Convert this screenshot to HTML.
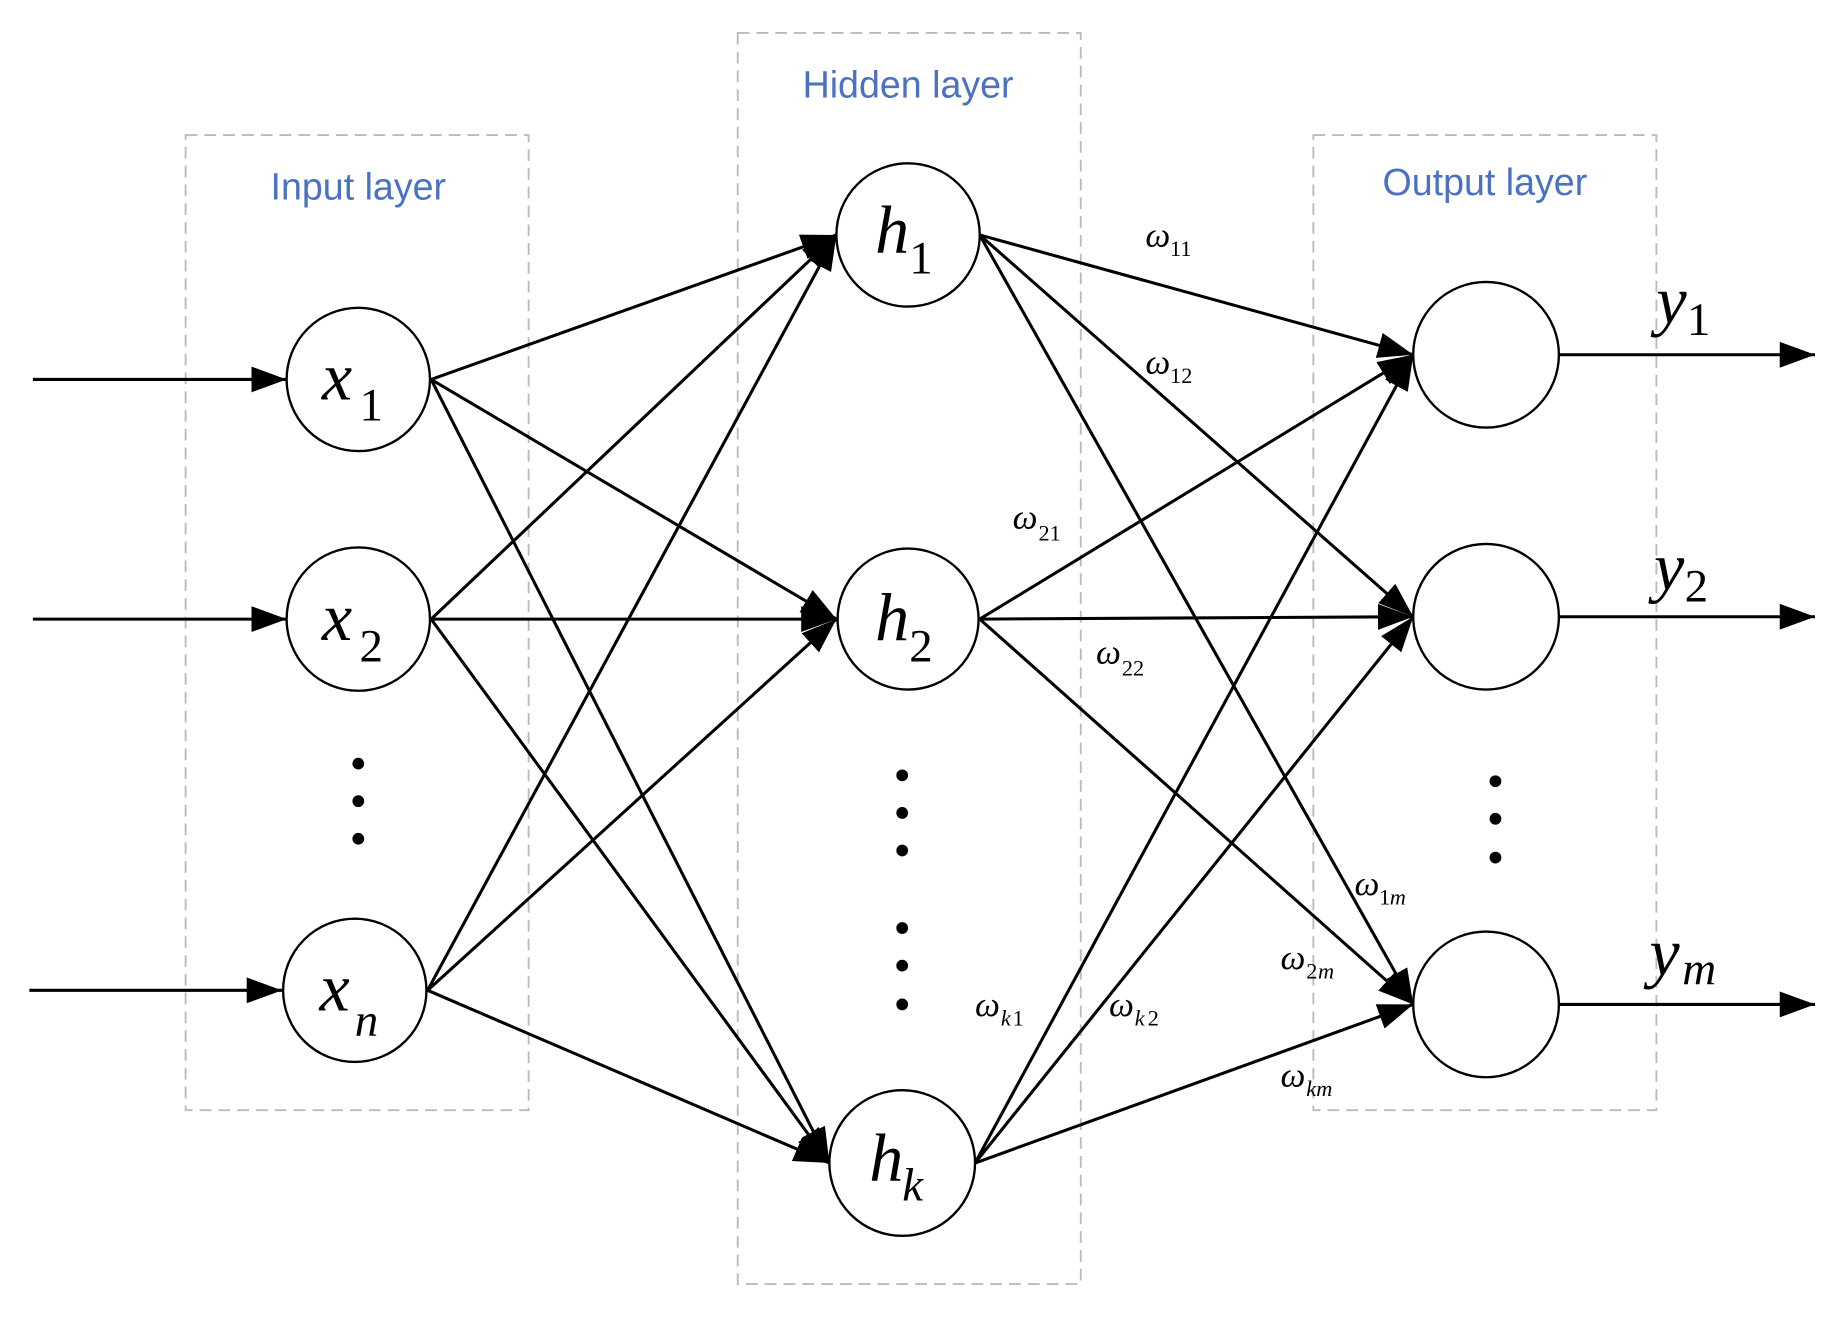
<!DOCTYPE html>
<html><head><meta charset="utf-8"><style>
html,body{margin:0;padding:0;background:#fff;width:1842px;height:1331px;overflow:hidden}
svg{display:block}
.lbl{font-family:"Liberation Sans",sans-serif;fill:#4a72c0;font-size:32px;text-anchor:middle}
.n{font-family:"Liberation Serif",serif;font-style:italic;font-size:58px;fill:#000}
.ns{font-family:"Liberation Serif",serif;font-size:40px;fill:#000}
.w{font-family:"Liberation Serif",serif;font-style:italic;font-size:30px;fill:#000}
.ws{font-family:"Liberation Serif",serif;font-size:19px;fill:#000}
</style></head><body>
<svg width="1842" height="1331" viewBox="0 0 1568 1133" preserveAspectRatio="none">
<defs>
<marker id="a" markerUnits="userSpaceOnUse" markerWidth="32" markerHeight="24" refX="30" refY="11" orient="auto">
<path d="M0,0 L30,11 L0,22 z" fill="#000"/></marker>
</defs>
<g fill="none" stroke="#bbb" stroke-width="1.6" stroke-dasharray="10,6">
<rect x="158" y="115" width="292" height="830"/>
<rect x="628" y="28" width="292" height="1065"/>
<rect x="1118" y="115" width="292" height="830"/>
</g>
<text class="lbl" x="305" y="170">Input layer</text>
<text class="lbl" x="773" y="83">Hidden layer</text>
<text class="lbl" x="1264" y="166">Output layer</text>
<g stroke="#000" stroke-width="2.6" fill="none" marker-end="url(#a)">
<line x1="28" y1="323" x2="244" y2="323"/>
<line x1="28" y1="527" x2="244" y2="527"/>
<line x1="25" y1="843" x2="240" y2="843"/>
<line x1="367" y1="323" x2="712" y2="200"/>
<line x1="367" y1="323" x2="712" y2="527"/>
<line x1="367" y1="323" x2="706" y2="990"/>
<line x1="367" y1="527" x2="712" y2="200"/>
<line x1="367" y1="527" x2="712" y2="527"/>
<line x1="367" y1="527" x2="706" y2="990"/>
<line x1="364" y1="843" x2="712" y2="200"/>
<line x1="364" y1="843" x2="712" y2="527"/>
<line x1="364" y1="843" x2="706" y2="990"/>
<line x1="834" y1="200" x2="1203" y2="302"/>
<line x1="834" y1="200" x2="1203" y2="525"/>
<line x1="834" y1="200" x2="1203" y2="855"/>
<line x1="834" y1="527" x2="1203" y2="302"/>
<line x1="834" y1="527" x2="1203" y2="525"/>
<line x1="834" y1="527" x2="1203" y2="855"/>
<line x1="830" y1="990" x2="1203" y2="302"/>
<line x1="830" y1="990" x2="1203" y2="525"/>
<line x1="830" y1="990" x2="1203" y2="855"/>
<line x1="1327" y1="302" x2="1545" y2="302"/>
<line x1="1327" y1="525" x2="1545" y2="525"/>
<line x1="1327" y1="855" x2="1545" y2="855"/>
</g>
<g fill="#fff" stroke="#000" stroke-width="2">
<circle cx="305" cy="323" r="61"/>
<circle cx="305" cy="527" r="61"/>
<circle cx="302" cy="843" r="61"/>
<circle cx="773" cy="200" r="61"/>
<circle cx="773" cy="527" r="60"/>
<circle cx="768" cy="990" r="62"/>
<circle cx="1265" cy="302" r="62"/>
<circle cx="1265" cy="525" r="62"/>
<circle cx="1265" cy="855" r="62"/>
</g>
<g fill="#000">
<circle cx="305" cy="650" r="5"/><circle cx="305" cy="682" r="5"/><circle cx="305" cy="714" r="5"/>
<circle cx="768" cy="660" r="5"/><circle cx="768" cy="692" r="5"/><circle cx="768" cy="724" r="5"/>
<circle cx="768" cy="790" r="5"/><circle cx="768" cy="822" r="5"/><circle cx="768" cy="855" r="5"/>
<circle cx="1273" cy="665" r="5"/><circle cx="1273" cy="697" r="5"/><circle cx="1273" cy="730" r="5"/>
</g>
<text class="n" x="274" y="340">x</text><text class="ns" x="306" y="358">1</text>
<text class="n" x="274" y="545">x</text><text class="ns" x="306" y="563">2</text>
<text class="n" x="272" y="860">x</text><text class="n" style="font-size:40px" x="302" y="882">n</text>
<text class="n" x="745" y="215">h</text><text class="ns" x="774" y="233">1</text>
<text class="n" x="745" y="545">h</text><text class="ns" x="774" y="563">2</text>
<text class="n" x="740" y="1005">h</text><text class="n" style="font-size:40px" x="768" y="1022">k</text>
<text class="n" x="1410" y="275">y</text><text class="ns" x="1436" y="285">1</text>
<text class="n" x="1408" y="502">y</text><text class="ns" x="1434" y="512">2</text>
<text class="n" x="1404" y="830">y</text><text class="n" style="font-size:40px" x="1432" y="838">m</text>
<text class="w" x="975" y="210">ω</text><text class="ws" x="996" y="218">11</text>
<text class="w" x="975" y="318">ω</text><text class="ws" x="996" y="326">12</text>
<text class="w" x="862" y="450">ω</text><text class="ws" x="884" y="460">21</text>
<text class="w" x="933" y="565">ω</text><text class="ws" x="955" y="575">22</text>
<text class="w" x="1153" y="762">ω</text><text class="ws" x="1174" y="770">1</text><text class="ws" style="font-style:italic" x="1183" y="770">m</text>
<text class="w" x="1090" y="825">ω</text><text class="ws" x="1112" y="833">2</text><text class="ws" style="font-style:italic" x="1122" y="833">m</text>
<text class="w" x="830" y="865">ω</text><text class="ws" style="font-style:italic" x="852" y="873">k</text><text class="ws" x="862" y="873">1</text>
<text class="w" x="944" y="865">ω</text><text class="ws" style="font-style:italic" x="966" y="873">k</text><text class="ws" x="977" y="873">2</text>
<text class="w" x="1090" y="925">ω</text><text class="ws" style="font-style:italic" x="1112" y="933">km</text>
</svg>
</body></html>
